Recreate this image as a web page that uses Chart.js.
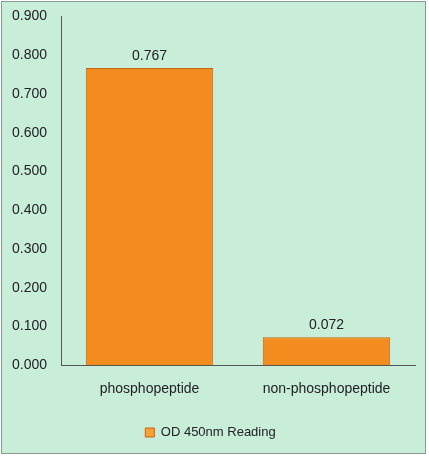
<!DOCTYPE html>
<html><head><script src="https://cdn.jsdelivr.net/npm/chart.js@4"></script>
<style>html,body{margin:0;padding:0;background:#fff}
#w{position:absolute;left:1px;top:1px;width:425px;height:453px;background:#c8eed9;border:1px solid #8a9a90;box-sizing:border-box}
canvas{display:block}</style></head><body>
<div id="w"><canvas id="c"></canvas></div>
<script>
const categories=["phosphopeptide","non-phosphopeptide"];
const values=[0.767,0.072];
const seriesName="OD 450nm Reading";
function grad(ctx){
  const a=ctx.chart.chartArea; const el=ctx.element;
  if(!a||!el||el.x===undefined||isNaN(el.x)) return "#f28c1e";
  const w=el.width||100, x0=el.x-w/2, x1=el.x+w/2;
  const g=ctx.chart.ctx.createLinearGradient(x0,0,x1,0);
  g.addColorStop(0,"#d9700f");g.addColorStop(0.45,"#ffa43a");g.addColorStop(0.6,"#f9982c");g.addColorStop(1,"#d36a0c");
  return g;
}
const labelPlugin={id:"lbl",afterDatasetsDraw(ch){const c=ch.ctx;c.save();c.fillStyle="#222";c.font="14px 'Liberation Sans',Arial";c.textAlign="center";c.textBaseline="bottom";
ch.getDatasetMeta(0).data.forEach((b,i)=>c.fillText(values[i].toFixed(3),b.x,b.y-5));c.restore();}};
new Chart(document.getElementById("c"),{type:"bar",
data:{labels:categories,datasets:[{label:seriesName,data:values,backgroundColor:grad,borderColor:"#c56510",borderWidth:1,categoryPercentage:0.72,barPercentage:1}]},
options:{responsive:true,maintainAspectRatio:false,animation:false,
layout:{padding:{top:12,right:10,left:4,bottom:4}},
plugins:{legend:{position:"bottom",labels:{boxWidth:9,boxHeight:9,color:"#222",font:{size:13,family:"'Liberation Sans',Arial"},padding:20}},tooltip:{enabled:false}},
scales:{y:{min:0,max:0.9,ticks:{stepSize:0.1,color:"#222",font:{size:14,family:"'Liberation Sans',Arial"},callback:v=>v.toFixed(3),padding:6},grid:{display:false},border:{color:"#555"}},
x:{ticks:{color:"#222",font:{size:14,family:"'Liberation Sans',Arial"},padding:8},grid:{display:false},border:{color:"#555"}}}},
plugins:[labelPlugin]});
</script></body></html>
